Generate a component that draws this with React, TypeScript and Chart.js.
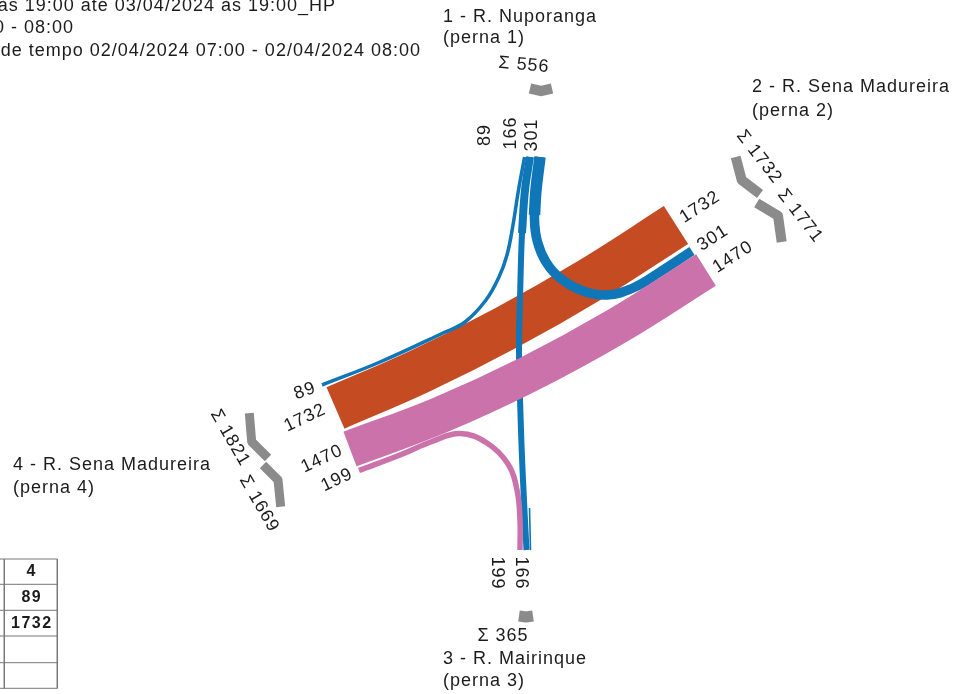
import React, { useEffect, useRef } from "react";
import { Chart, registerables } from "chart.js";

Chart.register(...registerables);

type P = { x: number; y: number };
const pts = (a: number[][]): P[] => a.map(([x, y]) => ({ x, y }));

// Flow paths, in diagram units (x right, y down)
const flowRed1732 = [[335.5, 408], [420.6, 370.9], [505.75, 328], [590.9, 279.4], [676, 225]];
const flowPink1470 = [[350, 449], [439, 415.5], [528, 374.5], [617, 326], [706, 270]];
const flowPink199 = [[359, 470.5], [400, 455], [432, 441.5], [460, 433.5], [487, 443], [508, 464], [517, 490], [520, 520], [520, 550]];
const flowBlue301 = [[540, 157], [536, 190], [534.5, 220], [537.5, 242], [546, 262], [560, 278], [583, 291], [607, 295], [633, 288], [660, 272], [692, 251]];
const flowBlue301Top = [[540, 157], [536, 190], [534.5, 215]];
const flowBlue166 = [[530, 157], [525, 190], [522, 233], [520, 300], [519, 350], [521, 430], [523, 480], [526.5, 550]];
const flowBlue166Top = [[530, 157], [525, 190], [522, 233]];
const flowBlue166Sliver = [[529.5, 508], [530.5, 550]];
const flowBlue89 = [[524.6, 157], [518.5, 190], [513, 225], [507, 255], [499, 277], [486, 300], [465, 322], [443, 333], [380, 362], [322, 385]];

const sumTop = [[530, 88.5], [541, 91], [552, 88.5]];
const sumRightIn = [[735.7, 157], [741.7, 180], [760, 194]];
const sumRightOut = [[756.7, 203], [778, 215.7], [781.7, 242]];
const sumLeftIn = [[249.3, 413], [251.7, 441.7], [268, 458]];
const sumLeftOut = [[263, 465], [278, 480], [280.7, 506.7]];
const sumBottom = [[519, 616], [526, 617], [533, 616]];

const tableRowLines = [559, 584.3, 610.3, 636, 662.7, 688.3];
const tableColLines = [4.3, 57.3];
const tableCells = ["4", "89", "1732"];

const headerLines = [
  "às 19:00 até 03/04/2024 às 19:00_HP",
  "0 - 08:00",
  "de tempo 02/04/2024 07:00 - 02/04/2024 08:00",
];
const headerEnds = [[336, 6], [74, 28], [421, 51]];

const legNames = [
  ["1 - R. Nuporanga", "(perna 1)", 443, 17, 38],
  ["2 - R. Sena Madureira", "(perna 2)", 752, 87, 111],
  ["3 - R. Mairinque", "(perna 3)", 443, 659, 681],
  ["4 - R. Sena Madureira", "(perna 4)", 13, 465, 488],
] as const;

// text, x, y, angle
const flowLabels: [string, number, number, number][] = [
  ["89", 485, 135, -90], ["166", 511, 133, -90], ["301", 532, 135, -90],
  ["1732", 700, 207, -33], ["301", 713, 238, -33], ["1470", 733, 257, -33],
  ["89", 305, 391, -20], ["1732", 305, 418, -25], ["1470", 322, 459, -25], ["199", 337, 480, -25],
  ["199", 497, 573, 90], ["166", 521, 573, 90],
];
const sumLabels: [string, number, number, number][] = [
  ["Σ 556", 524, 65, 5],
  ["Σ 1732", 759, 157, 52],
  ["Σ 1771", 800, 216, 52],
  ["Σ 1821", 230, 438, 60],
  ["Σ 1669", 259, 504, 60],
  ["Σ 365", 503, 636, 0],
];

const RED = "#c44b22";
const PINK = "#cb72ab";
const BLUE = "#0f76b7";
const GRAY = "#8b8b8b";
const INK = "#1c1c1c";
const FONT = '"Liberation Sans", Arial, sans-serif';

const flow = (data: number[][], color: string, width: number, tension = 0.4) => ({
  data: pts(data),
  showLine: true,
  borderColor: color,
  backgroundColor: color,
  borderWidth: width,
  borderCapStyle: "butt" as const,
  borderJoinStyle: "round" as const,
  pointRadius: 0,
  tension,
  fill: false,
});

const textPlugin = {
  id: "diagramText",
  afterDatasetsDraw(chart: any) {
    const { ctx, scales } = chart;
    const X = (v: number) => scales.x.getPixelForValue(v);
    const Y = (v: number) => scales.y.getPixelForValue(v);
    const put = (t: string, x: number, y: number, a = 0, align: CanvasTextAlign = "center", font = `18px ${FONT}`, sp = "1px") => {
      ctx.save();
      ctx.translate(X(x), Y(y));
      ctx.rotate((a * Math.PI) / 180);
      ctx.font = font;
      (ctx as any).letterSpacing = sp;
      ctx.fillStyle = INK;
      ctx.textAlign = align;
      ctx.textBaseline = "middle";
      ctx.fillText(t, 0, 0);
      ctx.restore();
    };
    headerLines.forEach((t, i) => put(t, headerEnds[i][0], headerEnds[i][1], 0, "right"));
    legNames.forEach(([a, b, x, y1, y2]) => {
      put(a, x, y1, 0, "left");
      put(b, x, y2, 0, "left");
    });
    flowLabels.forEach(([t, x, y, a]) => put(t, x, y, a));
    sumLabels.forEach(([t, x, y, a]) => put(t, x, y, a));
    tableCells.forEach((t, i) =>
      put(t, (tableColLines[0] + tableColLines[1]) / 2 + 1, (tableRowLines[i] + tableRowLines[i + 1]) / 2, 0, "center", `bold 16px ${FONT}`, "1.5px")
    );
  },
};

export default function App() {
  const ref = useRef<HTMLCanvasElement>(null);
  useEffect(() => {
    const tableLines = [
      ...tableRowLines.map((y) => flow([[0, y], [tableColLines[1], y]], "#777777", 1, 0)),
      ...tableColLines.map((x) => flow([[x, tableRowLines[0]], [x, tableRowLines[5]]], "#777777", 1, 0)),
    ];
    // first in the list is painted on top
    const datasets = [
      flow(flowPink1470, PINK, 37),
      flow(flowPink199, PINK, 5.5),
      flow(flowBlue301, BLUE, 9.5),
      flow(flowBlue301Top, BLUE, 11.5),
      flow(flowBlue166, BLUE, 6),
      flow(flowBlue166Top, BLUE, 8),
      flow(flowBlue166Sliver, BLUE, 1.6, 0),
      flow(flowBlue89, BLUE, 3.5),
      flow(flowRed1732, RED, 45),
      flow(sumTop, GRAY, 10.5, 0),
      flow(sumRightIn, GRAY, 10, 0),
      flow(sumRightOut, GRAY, 10, 0),
      flow(sumLeftIn, GRAY, 9, 0),
      flow(sumLeftOut, GRAY, 9, 0),
      flow(sumBottom, GRAY, 11, 0),
      ...tableLines,
    ].map((d, i) => ({ ...d, order: i }));
    const chart = new Chart(ref.current!, {
      type: "scatter",
      data: { datasets },
      options: {
        animation: false,
        responsive: false,
        layout: { padding: 0 },
        plugins: { legend: { display: false }, tooltip: { enabled: false } },
        scales: {
          x: { type: "linear", display: false, min: 0, max: 960 },
          y: { type: "linear", display: false, min: 0, max: 694, reverse: true },
        },
      },
      plugins: [textPlugin],
    } as any);
    return () => chart.destroy();
  }, []);
  return (
    <div style={{ position: "fixed", left: 0, top: 0, width: 960, height: 694, background: "#fff", overflow: "hidden" }}>
      <canvas ref={ref} width={960} height={694} style={{ display: "block" }} />
    </div>
  );
}
